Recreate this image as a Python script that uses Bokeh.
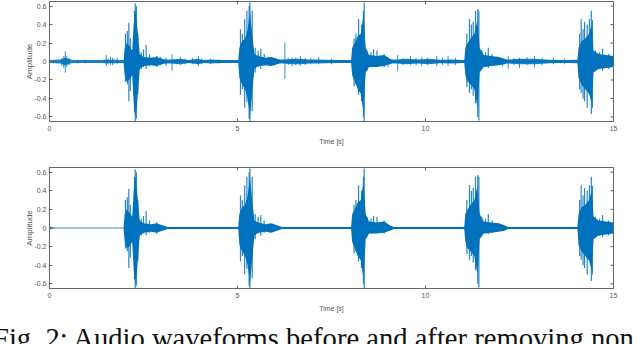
import math
from bokeh.plotting import figure
from bokeh.models import FixedTicker, Div
from bokeh.layouts import column
from bokeh.embed import file_html
from bokeh.resources import INLINE

# ---------------- data ----------------
X_TICKS = [0, 5, 10, 15]
Y_TICKS = [-0.6, -0.4, -0.2, 0, 0.2, 0.4, 0.6]
Y_LABELS = ["-0.6", "-0.4", "-0.2", "0", "0.2", "0.4", "0.6"]
X_MAX = 15
Y_MAX = 0.65

# dense core envelope of the five bursts (shared by both panels)
burst_t = [1.97, 2.00, 2.05, 2.12, 2.20, 2.24, 2.29, 2.34, 2.40, 2.50, 2.70, 2.85, 3.00, 3.15,
           5.02, 5.05, 5.12, 5.20, 5.27, 5.33, 5.39, 5.45, 5.55, 5.75, 5.90, 6.05, 6.18,
           8.02, 8.05, 8.12, 8.20, 8.28, 8.35, 8.41, 8.50, 8.70, 8.90, 9.05, 9.16,
           11.03, 11.06, 11.12, 11.20, 11.30, 11.38, 11.44, 11.55, 11.75, 11.95, 12.10, 12.20,
           14.04, 14.07, 14.15, 14.25, 14.35, 14.42, 14.47, 14.60, 14.80, 15.00]
burst_up = [0.01, 0.14, 0.20, 0.17, 0.12, 0.40, 0.55, 0.35, 0.08, 0.05, 0.04, 0.05, 0.03, 0.01,
            0.01, 0.15, 0.22, 0.25, 0.35, 0.55, 0.30, 0.08, 0.06, 0.04, 0.05, 0.03, 0.01,
            0.01, 0.15, 0.20, 0.28, 0.30, 0.50, 0.15, 0.07, 0.06, 0.07, 0.03, 0.01,
            0.01, 0.15, 0.20, 0.25, 0.30, 0.45, 0.15, 0.07, 0.06, 0.05, 0.03, 0.01,
            0.01, 0.15, 0.22, 0.25, 0.30, 0.40, 0.12, 0.08, 0.07, 0.06]
burst_lo = [-0.01, -0.14, -0.22, -0.20, -0.15, -0.45, -0.60, -0.40, -0.08, -0.05, -0.04, -0.05, -0.03, -0.01,
            -0.01, -0.18, -0.25, -0.30, -0.40, -0.60, -0.35, -0.08, -0.05, -0.04, -0.05, -0.03, -0.01,
            -0.01, -0.15, -0.22, -0.30, -0.35, -0.55, -0.12, -0.06, -0.06, -0.05, -0.03, -0.01,
            -0.01, -0.15, -0.22, -0.25, -0.30, -0.50, -0.12, -0.06, -0.05, -0.04, -0.03, -0.01,
            -0.01, -0.18, -0.25, -0.30, -0.35, -0.45, -0.12, -0.08, -0.07, -0.06]

# individual peaks of the bursts (shared by both panels)
spike_t = [2.02, 2.07, 2.11, 2.15, 2.26, 2.28, 2.31, 2.35, 2.44, 2.50, 2.57, 2.66, 2.85,
           5.08, 5.13, 5.19, 5.25, 5.31, 5.33, 5.39, 5.47, 5.55, 5.62, 5.71,
           8.10, 8.15, 8.22, 8.30, 8.35, 8.37, 8.44, 8.55, 8.62, 8.71, 8.90,
           11.10, 11.17, 11.22, 11.27, 11.33, 11.39, 11.42, 11.50, 11.60, 11.67, 11.77,
           14.10, 14.14, 14.19, 14.23, 14.30, 14.36, 14.41, 14.44, 14.52, 14.63, 14.71, 14.87]
spike_up = [0.30, 0.33, 0.42, 0.25, 0.55, 0.63, 0.60, 0.30, 0.10, 0.13, 0.18, 0.08, 0.06,
            0.35, 0.30, 0.46, 0.55, 0.60, 0.64, 0.55, 0.15, 0.12, 0.14, 0.08,
            0.25, 0.30, 0.46, 0.40, 0.55, 0.64, 0.12, 0.10, 0.13, 0.12, 0.08,
            0.30, 0.46, 0.40, 0.43, 0.55, 0.57, 0.55, 0.12, 0.10, 0.15, 0.08,
            0.30, 0.46, 0.35, 0.43, 0.40, 0.46, 0.55, 0.45, 0.12, 0.10, 0.14, 0.08]
spike_lo = [-0.22, -0.25, -0.43, -0.32, -0.55, -0.65, -0.62, -0.35, -0.08, -0.06, -0.08, -0.05, -0.06,
            -0.36, -0.30, -0.50, -0.44, -0.62, -0.65, -0.54, -0.12, -0.06, -0.08, -0.05,
            -0.27, -0.25, -0.36, -0.43, -0.60, -0.65, -0.10, -0.06, -0.06, -0.05, -0.06,
            -0.28, -0.34, -0.30, -0.37, -0.45, -0.60, -0.64, -0.08, -0.06, -0.07, -0.05,
            -0.30, -0.34, -0.40, -0.43, -0.50, -0.35, -0.57, -0.50, -0.10, -0.08, -0.10, -0.08]

# background noise of the original recording (top panel only): core band + small peaks
noise_t = [0.0, 0.3, 0.4, 0.5, 0.6, 1.4, 1.5, 1.6, 1.7, 1.8, 1.95,
           3.2, 3.5, 3.7, 3.95, 4.1, 4.3, 4.6, 4.9,
           6.2, 6.5, 6.7, 6.9, 7.1, 7.4, 7.7, 8.0,
           9.2, 9.5, 9.8, 10.1, 10.4, 10.7, 11.0,
           12.2, 12.5, 12.9, 13.3, 13.7, 14.0, 15.0]
noise_up = [0.015, 0.022, 0.040, 0.030, 0.015, 0.015, 0.022, 0.015, 0.022, 0.015, 0.015,
            0.022, 0.030, 0.015, 0.030, 0.015, 0.022, 0.015, 0.015,
            0.022, 0.030, 0.030, 0.022, 0.022, 0.018, 0.015, 0.015,
            0.022, 0.030, 0.022, 0.030, 0.018, 0.022, 0.015,
            0.022, 0.030, 0.030, 0.018, 0.015, 0.018, 0.040]
noise_lo = [-0.015, -0.022, -0.040, -0.030, -0.015, -0.015, -0.022, -0.015, -0.022, -0.015, -0.015,
            -0.022, -0.030, -0.015, -0.030, -0.015, -0.022, -0.015, -0.015,
            -0.022, -0.030, -0.030, -0.022, -0.022, -0.018, -0.015, -0.015,
            -0.022, -0.030, -0.022, -0.030, -0.018, -0.022, -0.015,
            -0.022, -0.030, -0.030, -0.018, -0.015, -0.018, -0.040]
nspike_t = [0.33, 0.38, 0.42, 0.46, 0.52, 0.75, 0.95, 1.51, 1.56, 1.62, 1.68, 1.80,
            2.95, 3.10, 3.26, 3.40, 3.48, 3.60, 3.80, 3.96, 4.05, 4.28, 4.50,
            5.85, 6.00, 6.26, 6.35, 6.45, 6.55, 6.67, 6.80, 6.95, 7.16, 7.50,
            9.00, 9.26, 9.40, 9.60, 9.75, 9.90, 10.05, 10.30, 10.45, 10.60, 10.80,
            11.90, 12.05, 12.20, 12.35, 12.50, 12.70, 12.90, 13.10, 13.40, 13.70]
nspike_up = [0.04, 0.06, 0.11, 0.06, 0.04, 0.02, 0.02, 0.07, 0.03, 0.05, 0.04, 0.04,
             0.05, 0.04, 0.08, 0.03, 0.05, 0.03, 0.04, 0.06, 0.03, 0.03, 0.02,
             0.05, 0.04, 0.20, 0.04, 0.05, 0.04, 0.06, 0.04, 0.04, 0.05, 0.03,
             0.05, 0.07, 0.04, 0.06, 0.04, 0.05, 0.04, 0.06, 0.04, 0.06, 0.04,
             0.05, 0.04, 0.06, 0.04, 0.04, 0.05, 0.06, 0.04, 0.04, 0.03]
nspike_lo = [-0.05, -0.07, -0.12, -0.06, -0.04, -0.02, -0.02, -0.05, -0.03, -0.04, -0.04, -0.03,
             -0.04, -0.05, -0.10, -0.03, -0.04, -0.03, -0.03, -0.05, -0.03, -0.03, -0.02,
             -0.05, -0.04, -0.19, -0.04, -0.05, -0.04, -0.05, -0.04, -0.03, -0.03, -0.03,
             -0.06, -0.10, -0.04, -0.04, -0.04, -0.05, -0.04, -0.05, -0.04, -0.05, -0.04,
             -0.04, -0.05, -0.08, -0.04, -0.07, -0.04, -0.06, -0.04, -0.03, -0.03]

# residual floor after removing the noise (bottom panel)
floor_t = [0.0, 0.15, 15.0]
floor_up = [0.015, 0.006, 0.006]
floor_lo = [-0.015, -0.006, -0.006]

CAPTION = "Fig. 2: Audio waveforms before and after removing non"

BLUE = "#0072BD"
AXC = "#666666"
TXC = "#555555"
FONT = "Liberation Sans"


def make_panel(height, top_border, bottom_border):
    p = figure(width=640, height=height, output_backend="svg", toolbar_location=None,
               x_range=(0, X_MAX), y_range=(-Y_MAX, Y_MAX),
               min_border_left=49, min_border_right=27,
               min_border_top=top_border, min_border_bottom=bottom_border)
    p.grid.visible = False
    p.outline_line_color = AXC
    p.outline_line_width = 1

    for ax in (p.xaxis[0], p.yaxis[0]):
        ax.major_tick_in = 3
        ax.major_tick_out = 0
        ax.minor_tick_in = 0
        ax.minor_tick_out = 0
        ax.axis_line_color = AXC
        ax.major_tick_line_color = AXC
        ax.major_label_text_color = TXC
        ax.major_label_text_font = FONT
        ax.major_label_text_font_size = "7px"
        ax.axis_label_text_font = FONT
        ax.axis_label_text_font_style = "normal"
        ax.axis_label_text_color = TXC
    p.xaxis.ticker = FixedTicker(ticks=X_TICKS)
    p.yaxis.ticker = FixedTicker(ticks=Y_TICKS)
    p.yaxis.major_label_overrides = {v: s for v, s in zip(Y_TICKS, Y_LABELS)}
    p.xaxis.major_label_standoff = 4
    p.yaxis.major_label_standoff = 3
    p.xaxis.axis_label = "Time [s]"
    p.yaxis.axis_label = "Amplitude"
    p.xaxis.axis_label_text_font_size = "7px"
    p.yaxis.axis_label_text_font_size = "8px"
    p.xaxis.axis_label_standoff = 4
    p.yaxis.axis_label_standoff = -3

    # mirrored inward ticks on the top and right edges (box on)
    p.ray(x=X_TICKS, y=[Y_MAX] * len(X_TICKS), length=3, length_units="screen",
          angle=-math.pi / 2, line_color=AXC, line_width=1)
    p.ray(x=[X_MAX] * len(Y_TICKS), y=Y_TICKS, length=3, length_units="screen",
          angle=math.pi, line_color=AXC, line_width=1)
    return p


top = make_panel(160, 1, 39)
top.varea(x=noise_t, y1=noise_lo, y2=noise_up, fill_color=BLUE, fill_alpha=0.9)
top.segment(x0=nspike_t, y0=nspike_lo, x1=nspike_t, y1=nspike_up, line_color=BLUE, line_width=1, line_alpha=0.8)
top.varea(x=burst_t, y1=burst_lo, y2=burst_up, fill_color=BLUE)
top.segment(x0=spike_t, y0=spike_lo, x1=spike_t, y1=spike_up, line_color=BLUE, line_width=1.2, line_alpha=0.85)

bot = make_panel(160, 7, 32)
bot.varea(x=floor_t, y1=floor_lo, y2=floor_up, fill_color=BLUE, fill_alpha=0.8)
bot.varea(x=burst_t, y1=burst_lo, y2=burst_up, fill_color=BLUE)
bot.segment(x0=spike_t, y0=spike_lo, x1=spike_t, y1=spike_up, line_color=BLUE, line_width=1.2, line_alpha=0.85)

cap = Div(text=CAPTION, width=640, height=24,
          styles={"font-family": "'Liberation Serif', serif", "font-size": "28.6px",
                  "line-height": "28px", "white-space": "nowrap", "overflow": "hidden",
                  "color": "#111111", "margin-left": "-7px"})

layout = column(top, bot, cap, spacing=0)

open("out.html", "w").write(file_html(layout, INLINE))
